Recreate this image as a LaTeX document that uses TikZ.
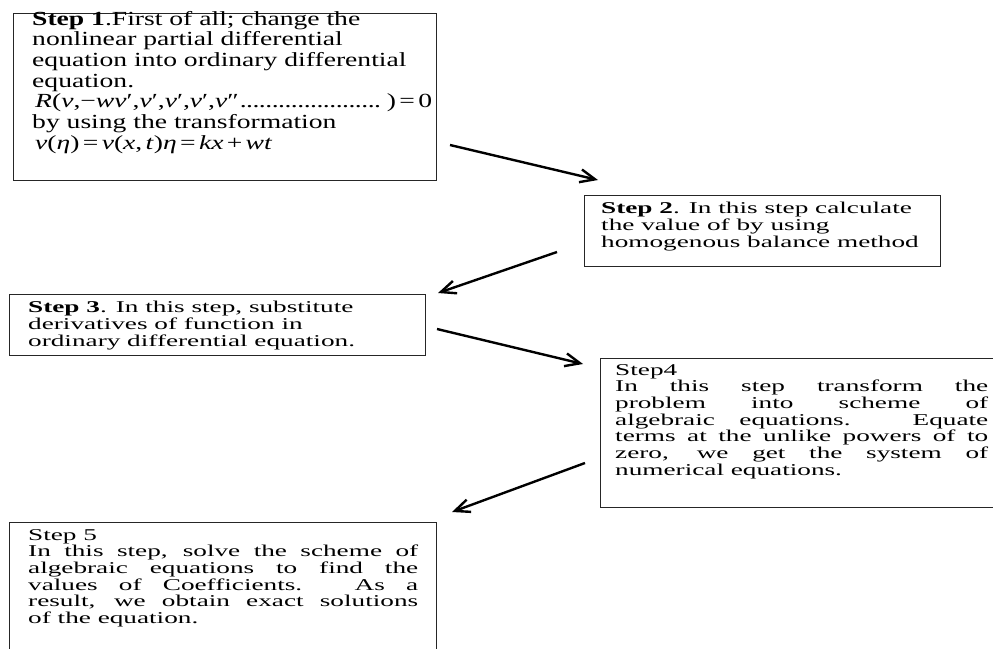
\documentclass[tikz,border=0pt]{standalone}
\usepackage{fontspec}
\setmainfont{Liberation Serif}
\newfontfamily\fa{Liberation Serif}[FakeStretch=1.38]
\newfontfamily\fb{Liberation Serif}[FakeStretch=1.65]
\usetikzlibrary{arrows.meta}
\newcommand{\jl}[1]{\makebox[\linewidth][s]{#1}}
\newcommand{\ldts}{\leaders\hbox to 0.32em{\hss.\hss}\hfill}
\begin{document}
\begin{tikzpicture}[x=1pt,y=-1pt,
  box/.style={draw=black!85, line width=0.9pt, anchor=north west, inner sep=0pt},
  txt/.style={anchor=base west, inner sep=0pt},
  flow/.style={line width=2.4pt, -{Straight Barb[length=15pt,width=13pt]}}]
\useasboundingbox (0,0) rectangle (993,648);
\clip (0,0) rectangle (993,648);
% boxes
\node[box, minimum width=423pt, minimum height=167pt] (b1) at (13,13) {};
\node[box, minimum width=356pt, minimum height=71pt] (b2) at (584,195) {};
\node[box, minimum width=416pt, minimum height=61pt] (b3) at (9,294) {};
\node[box, minimum width=420pt, minimum height=149pt] (b4) at (600,358) {};
\node[box, minimum width=427pt, minimum height=180pt] (b5) at (9,522) {};
% texts
\node[txt] (t1) at (32,25) {\parbox[t]{400pt}{\fa\fontsize{20}{20.7}\selectfont
\textbf{Step 1}.First of all; change the\\
nonlinear partial differential\\
equation into ordinary differential\\
equation.\\
\hspace*{3pt}\makebox[397pt][l]{\textit{R}(\textit{v},−\textit{wv}′,\textit{v}′,\textit{v}′,\textit{v}′,\textit{v}″\ldts)\,=\,0}\\
by using the transformation\\
\hspace*{3pt}\textit{v}(\textit{η})\,=\,\textit{v}(\textit{x},\,\textit{t})\textit{η}\,=\,\textit{kx}\,+\,\textit{wt}}};
\node[txt] (t2) at (601,213) {\parbox[t]{340pt}{\fb\fontsize{16.5}{17}\selectfont
\textbf{Step 2}. In this step calculate\\
the value of by using\\
homogenous balance method}};
\node[txt] (t3) at (28,312) {\parbox[t]{390pt}{\fb\fontsize{16.5}{17}\selectfont
\textbf{Step 3}. In this step, substitute\\
derivatives of function in\\
ordinary differential equation.}};
\node[txt] (t4) at (615,375) {\parbox[t]{373pt}{\fb\fontsize{16.5}{16.7}\selectfont
Step4\\
\jl{In this step transform the}\\
\jl{problem into scheme of}\\
\jl{algebraic equations. Equate}\\
\jl{terms at the unlike powers of to}\\
\jl{zero, we get the system of}\\
numerical equations.}};
\node[txt] (t5) at (28,540) {\parbox[t]{390pt}{\fb\fontsize{16.5}{16.7}\selectfont
Step 5\\
\jl{In this step, solve the scheme of}\\
\jl{algebraic equations to find the}\\
\jl{values of Coefficients. As a}\\
\jl{result, we obtain exact solutions}\\
of the equation.}};
% arrows
\coordinate (a1s) at (450,145); \coordinate (a1e) at (598,180);
\coordinate (a2s) at (557,252); \coordinate (a2e) at (438,293);
\coordinate (a3s) at (437,329); \coordinate (a3e) at (583,364);
\coordinate (a4s) at (585,463); \coordinate (a4e) at (452,512);
\draw[flow] (a1s) -- (a1e);
\draw[flow] (a2s) -- (a2e);
\draw[flow] (a3s) -- (a3e);
\draw[flow] (a4s) -- (a4e);
\end{tikzpicture}
\end{document}
